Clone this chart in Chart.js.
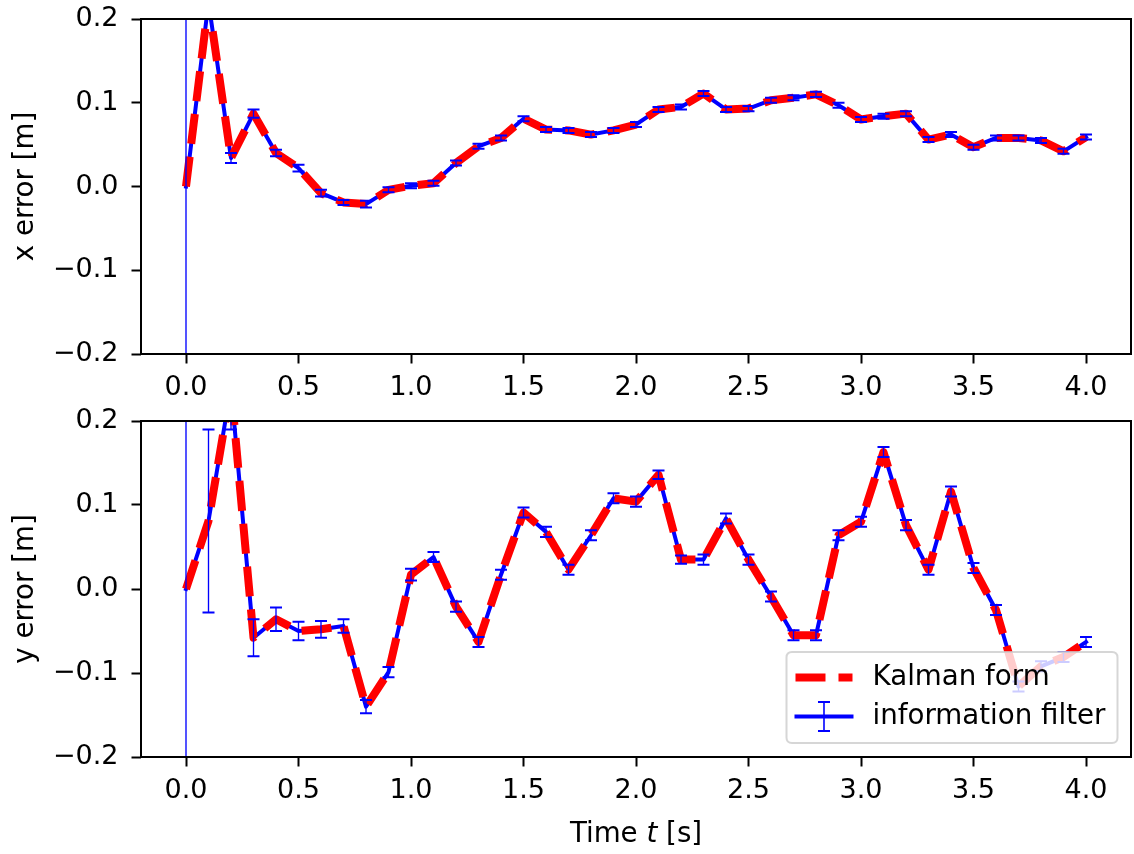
<!DOCTYPE html>
<html><head><meta charset="utf-8">
<script src="https://cdn.jsdelivr.net/npm/chart.js@4.4.1/dist/chart.umd.min.js"></script>
<style>
html,body{margin:0;padding:0;background:#fff;}
#wrap{position:relative;width:1134px;height:854px;background:#fff;}
#c1{position:absolute;left:0;top:0;}
#c2{position:absolute;left:0;top:400px;}
</style></head><body>
<div id="wrap"><canvas id="c1" width="1134" height="400"></canvas><canvas id="c2" width="1134" height="454"></canvas></div>
<script>
// ---------- data ----------
const timeValues = [0.0,0.1,0.2,0.3,0.4,0.5,0.6,0.7,0.8,0.9,1.0,1.1,1.2,1.3,1.4,1.5,1.6,1.7,1.8,1.9,2.0,
                    2.1,2.2,2.3,2.4,2.5,2.6,2.7,2.8,2.9,3.0,3.1,3.2,3.3,3.4,3.5,3.6,3.7,3.8,3.9,4.0];
const xErrorKalman = [0.0,0.22,0.034,0.087,0.040,0.022,-0.008,-0.019,-0.021,-0.004,0.001,0.004,0.028,0.048,0.058,0.081,0.068,0.067,0.062,0.067,0.074,
                      0.092,0.095,0.111,0.092,0.093,0.103,0.106,0.110,0.097,0.080,0.084,0.087,0.056,0.062,0.047,0.058,0.058,0.055,0.042,0.059];
const xErrorInfo   = [0.0,0.22,0.034,0.087,0.040,0.022,-0.008,-0.019,-0.021,-0.004,0.001,0.004,0.028,0.048,0.058,0.081,0.068,0.067,0.062,0.067,0.074,
                      0.092,0.095,0.111,0.092,0.093,0.103,0.106,0.110,0.097,0.080,0.084,0.087,0.056,0.062,0.047,0.058,0.058,0.055,0.042,0.059];
const xErrorSigma  = [1.0,0.010,0.006,0.005,0.004,0.004,0.004,0.003,0.004,0.003,0.003,0.003,0.003,0.003,0.003,0.003,0.003,0.003,0.003,0.003,0.003,
                      0.003,0.003,0.003,0.003,0.003,0.003,0.003,0.003,0.003,0.003,0.003,0.003,0.003,0.003,0.003,0.003,0.003,0.003,0.003,0.003];
const yErrorKalman = [0.0,0.081,0.24,-0.058,-0.036,-0.050,-0.048,-0.044,-0.140,-0.099,0.017,0.038,-0.021,-0.063,0.017,0.091,0.068,0.023,0.064,0.108,0.104,
                      0.136,0.035,0.035,0.084,0.035,-0.009,-0.055,-0.055,0.064,0.080,0.163,0.076,0.023,0.116,0.025,-0.025,-0.116,-0.092,-0.081,-0.063];
const yErrorInfo   = [0.0,0.081,0.24,-0.058,-0.036,-0.050,-0.048,-0.044,-0.140,-0.099,0.017,0.038,-0.021,-0.063,0.017,0.091,0.068,0.023,0.064,0.108,0.104,
                      0.136,0.035,0.035,0.084,0.035,-0.009,-0.055,-0.055,0.064,0.080,0.163,0.076,0.023,0.116,0.025,-0.025,-0.116,-0.092,-0.081,-0.063];
const yErrorSigma  = [1.0,0.109,0.050,0.022,0.014,0.011,0.010,0.008,0.008,0.006,0.007,0.006,0.006,0.006,0.006,0.006,0.006,0.006,0.006,0.006,0.006,
                      0.005,0.005,0.006,0.006,0.006,0.006,0.006,0.006,0.006,0.006,0.006,0.006,0.006,0.006,0.006,0.006,0.006,0.006,0.006,0.006];
const xTickValues = [0.0,0.5,1.0,1.5,2.0,2.5,3.0,3.5,4.0];
const yTickValues = [-0.2,-0.1,0.0,0.1,0.2];
const seriesLabels = ['Kalman form','information filter'];
const yAxisTitles = ['x error [m]','y error [m]'];
const xAxisTitleParts = ['Time ','t',' [s]'];

// ---------- styling ----------
const FAMILY = '"DejaVu Sans", sans-serif';
const TICK_FS = 27;
const LABEL_FS = 27.7;
const RED = '#ff0000', BLUE = '#0000ff';

function fmtTick(v){ const s = Math.abs(v).toFixed(1); return (v < -1e-9 ? '\u2212' : '') + s; }
function pts(xs, ys){ return xs.map((x,i)=>({x:x, y:ys[i]})); }

function overlayPlugin(errors){
  return {
    id: 'overlay',
    afterDatasetsDraw(chart){
      const {ctx, chartArea:a, scales:{x, y}} = chart;
      const ds = chart.data.datasets[1];
      ctx.save();
      ctx.beginPath(); ctx.rect(a.left, a.top, a.right-a.left, a.bottom-a.top); ctx.clip();
      ctx.strokeStyle = BLUE;
      ds.data.forEach((p,i)=>{
        const e = errors[i];
        const px = x.getPixelForValue(p.x);
        const yl = y.getPixelForValue(p.y - e), yh = y.getPixelForValue(p.y + e);
        ctx.lineWidth = 1.35;
        ctx.beginPath(); ctx.moveTo(px, yl); ctx.lineTo(px, yh); ctx.stroke();
        ctx.lineWidth = 2;
        ctx.beginPath();
        ctx.moveTo(px-6, yl); ctx.lineTo(px+6, yl);
        ctx.moveTo(px-6, yh); ctx.lineTo(px+6, yh);
        ctx.stroke();
      });
      ctx.restore();
      ctx.save();
      ctx.strokeStyle = '#000'; ctx.lineWidth = 2;
      ctx.strokeRect(a.left, a.top, a.right-a.left, a.bottom-a.top);
      ctx.restore();
    }
  };
}

const legendPlugin = {
  id: 'mplLegend',
  afterDraw(chart){
    const {ctx, chartArea:a} = chart;
    const ds = chart.data.datasets;
    ctx.save();
    ctx.font = LABEL_FS + 'px ' + FAMILY;
    const tw = Math.max(...ds.map(d=>ctx.measureText(d.label).width));
    const right = a.right - 13.5, bottom = a.bottom - 14;
    const padL = 9, handleLen = 57, gap = 20, padR = 12;
    const w = padL + handleLen + gap + tw + padR, h = 91;
    const left = right - w, top = bottom - h;
    const r = 5.5;
    ctx.beginPath();
    ctx.moveTo(left + r, top); ctx.lineTo(right - r, top); ctx.quadraticCurveTo(right, top, right, top + r);
    ctx.lineTo(right, bottom - r); ctx.quadraticCurveTo(right, bottom, right - r, bottom);
    ctx.lineTo(left + r, bottom); ctx.quadraticCurveTo(left, bottom, left, bottom - r);
    ctx.lineTo(left, top + r); ctx.quadraticCurveTo(left, top, left + r, top);
    ctx.closePath();
    ctx.fillStyle = 'rgba(255,255,255,0.8)'; ctx.fill();
    ctx.strokeStyle = 'rgba(204,204,204,0.8)'; ctx.lineWidth = 2; ctx.stroke();
    const rows = [top + 25.5, top + 64.5];
    const hx0 = left + padL, hx1 = hx0 + handleLen;
    ctx.strokeStyle = ds[0].borderColor; ctx.lineWidth = ds[0].borderWidth;
    ctx.setLineDash(ds[0].borderDash); ctx.lineCap = 'butt';
    ctx.beginPath(); ctx.moveTo(hx0, rows[0]); ctx.lineTo(hx1, rows[0]); ctx.stroke();
    ctx.setLineDash([]);
    ctx.strokeStyle = ds[1].borderColor; ctx.lineWidth = ds[1].borderWidth; ctx.lineCap = 'square';
    ctx.beginPath(); ctx.moveTo(hx0 + 1, rows[1]); ctx.lineTo(hx1 - 1, rows[1]); ctx.stroke();
    const cx = (hx0 + hx1) / 2, eh = 14.5;
    ctx.lineCap = 'butt'; ctx.lineWidth = 1.6;
    ctx.beginPath(); ctx.moveTo(cx, rows[1]-eh); ctx.lineTo(cx, rows[1]+eh); ctx.stroke();
    ctx.lineWidth = 2;
    ctx.beginPath(); ctx.moveTo(cx-6, rows[1]-eh); ctx.lineTo(cx+6, rows[1]-eh);
    ctx.moveTo(cx-6, rows[1]+eh); ctx.lineTo(cx+6, rows[1]+eh); ctx.stroke();
    ctx.fillStyle = '#000'; ctx.textBaseline = 'middle'; ctx.textAlign = 'left';
    ds.forEach((d,i)=> ctx.fillText(d.label, hx1 + gap, rows[i]));
    ctx.restore();
  }
};

const xTitlePlugin = {
  id: 'xTitle',
  afterDraw(chart){
    const {ctx, chartArea:a} = chart;
    ctx.save();
    const fonts = ['normal ' + LABEL_FS + 'px ' + FAMILY, 'italic ' + LABEL_FS + 'px ' + FAMILY, 'normal ' + LABEL_FS + 'px ' + FAMILY];
    const widths = xAxisTitleParts.map((s,i)=>{ ctx.font = fonts[i]; return ctx.measureText(s).width; });
    const total = widths.reduce((p,c)=>p+c,0);
    let x = (a.left + a.right)/2 - total/2;
    const y = a.bottom + 85;
    ctx.fillStyle = '#000'; ctx.textBaseline = 'alphabetic'; ctx.textAlign = 'left';
    xAxisTitleParts.forEach((s,i)=>{ ctx.font = fonts[i]; ctx.fillText(s, x, y); x += widths[i]; });
    ctx.restore();
  }
};

function makeChart(id, kalmanVals, infoVals, yTitle, padTop, xAxisHeight, extraPlugins){
  return new Chart(document.getElementById(id), {
    type: 'line',
    data: {
      datasets: [
        { label: seriesLabels[0], data: pts(timeValues, kalmanVals), borderColor: RED, backgroundColor: RED,
          borderWidth: 8, borderDash: [30, 13], borderCapStyle: 'butt', borderJoinStyle: 'round',
          pointRadius: 0, tension: 0, fill: false },
        { label: seriesLabels[1], data: pts(timeValues, infoVals), borderColor: BLUE, backgroundColor: BLUE,
          borderWidth: 4, borderCapStyle: 'square', borderJoinStyle: 'round',
          pointRadius: 0, tension: 0, fill: false }
      ]
    },
    options: {
      responsive: false, animation: false, devicePixelRatio: 1, events: [],
      layout: { padding: { left: 0, top: padTop, right: 3, bottom: 0 } },
      plugins: { legend: { display: false }, tooltip: { enabled: false } },
      scales: {
        x: {
          type: 'linear', min: -0.2, max: 4.2,
          afterBuildTicks: s => { s.ticks = xTickValues.map(v => ({ value: v })); },
          afterFit: s => { s.height = xAxisHeight; s.paddingLeft = 0; s.paddingRight = 0; },
          ticks: { callback: v => v.toFixed(1), font: { family: FAMILY, size: TICK_FS }, color: '#000',
                   padding: 8, maxRotation: 0, autoSkip: false },
          grid: { drawOnChartArea: false, drawTicks: true, tickLength: 9.5, tickWidth: 2, tickColor: '#000' },
          border: { display: false }
        },
        y: {
          type: 'linear', min: -0.2, max: 0.2,
          afterBuildTicks: s => { s.ticks = yTickValues.map(v => ({ value: v })); },
          afterFit: s => { s.width = 141; s.paddingTop = 0; s.paddingBottom = 0; },
          ticks: { callback: v => fmtTick(v), font: { family: FAMILY, size: TICK_FS }, color: '#000', padding: 13 },
          grid: { drawOnChartArea: false, drawTicks: true, tickLength: 9.5, tickWidth: 2, tickColor: '#000' },
          border: { display: false },
          title: { display: true, text: yTitle, color: '#000', font: { family: FAMILY, size: LABEL_FS },
                   padding: { top: 9, bottom: 0 } }
        }
      }
    },
    plugins: extraPlugins
  });
}

makeChart('c1', xErrorKalman, xErrorInfo, yAxisTitles[0], 19, 46, [overlayPlugin(xErrorSigma)]);
makeChart('c2', yErrorKalman, yErrorInfo, yAxisTitles[1], 21, 97, [overlayPlugin(yErrorSigma), legendPlugin, xTitlePlugin]);
</script>
</body></html>
